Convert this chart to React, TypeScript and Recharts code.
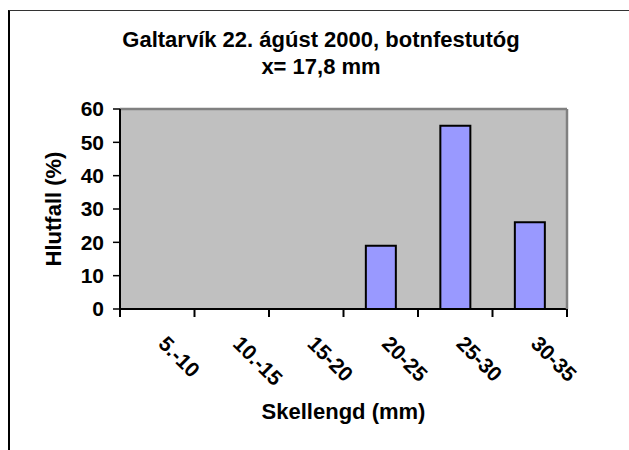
import { BarChart, Bar, XAxis, YAxis, CartesianGrid } from "recharts"

const categories = ["5.-10", "10.-15", "15-20", "20-25", "25-30", "30-35"]
const share = [0, 0, 0, 19, 55, 26]
const yTicks = [0, 10, 20, 30, 40, 50, 60]

const data = categories.map((label, i) => ({ label, share: share[i] }))

const FONT = "'Liberation Sans', Arial, sans-serif"

// label under each category, plus the tick marks that sit on the category edges
const XTick = (props: any) => {
  const { x, y, payload, index, visibleTicksCount } = props
  const half = payload.offset || 0
  const ty = y + 36
  const last = index === visibleTicksCount - 1
  return (
    <g>
      <line x1={x - half} y1={y} x2={x - half} y2={y + 8} stroke="#000" strokeWidth={2} />
      {last && (
        <line x1={x + half} y1={y} x2={x + half} y2={y + 8} stroke="#000" strokeWidth={2} />
      )}
      <text
        x={x}
        y={ty}
        transform={`rotate(45 ${x} ${ty})`}
        textAnchor="start"
        fontFamily={FONT}
        fontWeight="bold"
        fontSize={21}
        fill="#000"
      >
        {payload.value}
      </text>
    </g>
  )
}

export default function App() {
  return (
    <div
      style={{
        position: "absolute",
        left: 0,
        top: 0,
        width: 629,
        height: 450,
        overflow: "hidden",
        background: "#fff",
      }}
    >
      <div
        style={{
          position: "absolute",
          left: 8,
          top: 10,
          width: 700,
          height: 500,
          borderTop: "1px solid #333",
          borderLeft: "2px solid #000",
        }}
      />
      <div
        style={{
          position: "absolute",
          left: 0,
          width: 642,
          top: 26,
          textAlign: "center",
          fontFamily: FONT,
          fontWeight: "bold",
          fontSize: 22,
          lineHeight: "27px",
          color: "#000",
        }}
      >
        <div>Galtarvík 22. ágúst 2000, botnfestutóg</div>
        <div>x= 17,8 mm</div>
      </div>
      <div style={{ position: "absolute", left: 0, top: 0 }}>
        <BarChart
          width={629}
          height={450}
          data={data}
          margin={{ top: 108, right: 61, left: 0, bottom: 0 }}
          barCategoryGap="30%"
        >
          <CartesianGrid
            xAxisId="cat"
            yAxisId="left"
            horizontal={false}
            vertical={false}
            fill="#c0c0c0"
          />
          <XAxis
            xAxisId="cat"
            dataKey="label"
            type="category"
            tickLine={false}
            axisLine={{ stroke: "#000", strokeWidth: 2 }}
            tickSize={0}
            tickMargin={0}
            interval={0}
            height={141}
            tick={<XTick />}
            label={{
              content: (p: any) => {
                const vb = p.viewBox
                return (
                  <text
                    x={vb.x + vb.width / 2}
                    y={vb.y + 110}
                    textAnchor="middle"
                    fontFamily={FONT}
                    fontWeight="bold"
                    fontSize={22}
                    fill="#000"
                  >
                    Skellengd (mm)
                  </text>
                )
              },
            }}
          />
          <XAxis
            xAxisId="top"
            orientation="top"
            dataKey="label"
            type="category"
            tick={false}
            tickLine={false}
            height={1}
            axisLine={{ stroke: "#808080", strokeWidth: 2.5 }}
          />
          <YAxis
            yAxisId="left"
            type="number"
            domain={[0, 60]}
            ticks={yTicks}
            interval={0}
            width={120}
            tickSize={7}
            tickMargin={9}
            axisLine={{ stroke: "#000", strokeWidth: 2 }}
            tickLine={{ stroke: "#000", strokeWidth: 1.5 }}
            tick={{ fontFamily: FONT, fontWeight: "bold", fontSize: 21, fill: "#000" }}
            label={{
              content: (p: any) => {
                const vb = p.viewBox
                const cx = 53
                const cy = vb.y + vb.height / 2
                return (
                  <text
                    x={cx}
                    y={cy}
                    transform={`rotate(-90 ${cx} ${cy})`}
                    textAnchor="middle"
                    dominantBaseline="central"
                    fontFamily={FONT}
                    fontWeight="bold"
                    fontSize={22}
                    fill="#000"
                  >
                    Hlutfall (%)
                  </text>
                )
              },
            }}
          />
          <YAxis
            yAxisId="right"
            orientation="right"
            type="number"
            dataKey="share"
            domain={[0, 60]}
            width={1}
            tick={false}
            tickLine={false}
            axisLine={{ stroke: "#808080", strokeWidth: 2.5 }}
          />
          <Bar
            xAxisId="cat"
            yAxisId="left"
            dataKey="share"
            fill="#9999ff"
            stroke="#000"
            strokeWidth={2}
            isAnimationActive={false}
          />
        </BarChart>
      </div>
    </div>
  )
}
